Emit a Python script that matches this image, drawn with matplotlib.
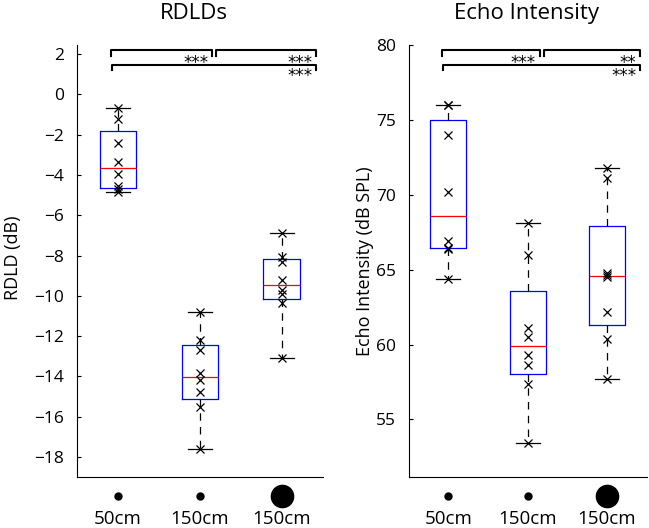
import numpy as np
import matplotlib
matplotlib.use("Agg")
import matplotlib.pyplot as plt
import matplotlib.transforms as mtransforms

plt.rcParams["font.family"] = ["Open Sans", "DejaVu Sans"]

# ===== data =====
groups = ["50cm", "150cm", "150cm"]
dot_sizes = [5, 5, 16]          # small / small / large sphere symbol

rdld_50_small = [-0.66, -1.23, -2.43, -3.35, -3.96, -4.55, -4.72, -4.84]
rdld_150_small = [-10.8, -12.2, -12.7, -13.83, -14.2, -14.77, -15.52, -17.6]
rdld_150_large = [-6.86, -8.07, -8.32, -9.22, -9.72, -9.93, -10.38, -13.08]

echo_50_small = [76.0, 76.0, 73.98, 70.22, 66.94, 66.45, 66.38, 64.38]
echo_150_small = [68.1, 66.0, 61.09, 60.49, 59.27, 58.64, 57.38, 53.44]
echo_150_large = [71.78, 71.11, 64.77, 64.67, 64.49, 62.18, 60.36, 57.71]

rdld_sig = ["***", "***", "***"]   # (1,2), (2,3), (1,3)
echo_sig = ["***", "**", "***"]


def prctile(vals, p):
    # matlab-style percentile
    v = np.sort(vals)
    n = len(v)
    pos = (np.arange(n) + 0.5) / n * 100
    return float(np.interp(p, pos, v))


def box_stats(vals):
    return dict(med=prctile(vals, 50), q1=prctile(vals, 25), q3=prctile(vals, 75),
                whislo=min(vals), whishi=max(vals), fliers=[])


def draw_panel(ax, datasets, ylim, yticks, sig):
    stats = [box_stats(d) for d in datasets]
    ax.bxp(stats, positions=[1, 2, 3], widths=0.45, showfliers=False,
           boxprops=dict(color="blue", lw=0.9),
           medianprops=dict(color="red", lw=0.9),
           whiskerprops=dict(color="black", lw=0.9, ls=(0, (6, 5))),
           capprops=dict(color="black", lw=0.9), capwidths=0.3)
    for i, d in enumerate(datasets):
        ax.plot([i + 1] * len(d), d, "x", color="black", ms=5.5, mew=0.9, zorder=5)

    ax.set_xlim(0.5, 3.5)
    ax.set_ylim(*ylim)
    ax.set_yticks(yticks)
    ax.spines["top"].set_visible(False)
    ax.spines["right"].set_visible(False)
    ax.tick_params(axis="y", direction="in", length=3, pad=9, labelsize=12.5)
    ax.set_xticks([1, 2, 3], groups)
    ax.tick_params(axis="x", length=0, pad=24, labelsize=13.5)

    # sphere symbols under the group labels
    tr = mtransforms.blended_transform_factory(ax.transData, ax.transAxes)
    for i, s in enumerate(dot_sizes):
        ax.plot(i + 1, -0.044, "o", color="black", ms=s, transform=tr, clip_on=False)

    # significance brackets
    spans = [(0.92, 2.15, 0.988, 0.975), (2.2, 3.42, 0.988, 0.975), (0.93, 3.42, 0.954, 0.942)]
    offs = [0.03, 0.03, 0.026]
    for (x1, x2, ytop, ybot), off, lab in zip(spans, offs, sig):
        ax.plot([x1, x1, x2, x2], [ybot, ytop, ytop, ybot], color="black", lw=1.5,
                transform=tr, clip_on=False)
        ax.text(x2 - 0.05, ytop - off, lab, ha="right", va="center", fontsize=12,
                family="DejaVu Sans", transform=tr)
    return ax


fig = plt.figure(figsize=(6.49, 5.28), dpi=100)
ax1 = fig.add_axes([0.1186, 0.0966, 0.379, 0.818])
ax2 = fig.add_axes([0.6297, 0.0966, 0.3667, 0.818])

draw_panel(ax1, [rdld_50_small, rdld_150_small, rdld_150_large],
           (-19, 2.45), np.arange(-18, 3, 2), rdld_sig)
draw_panel(ax2, [echo_50_small, echo_150_small, echo_150_large],
           (51.15, 80), np.arange(55, 81, 5), echo_sig)

fig.text(0.299, 0.974, "RDLDs", ha="center", va="center", fontsize=16)
fig.text(0.8105, 0.974, "Echo Intensity", ha="center", va="center", fontsize=16)

fig.text(0.020, 0.512, "RDLD (dB)", rotation=90, ha="center", va="center", fontsize=13)
fig.text(0.562, 0.505, "Echo Intensity (dB SPL)", rotation=90, ha="center", va="center",
         fontsize=13)

fig.savefig("out.png", dpi=100)
